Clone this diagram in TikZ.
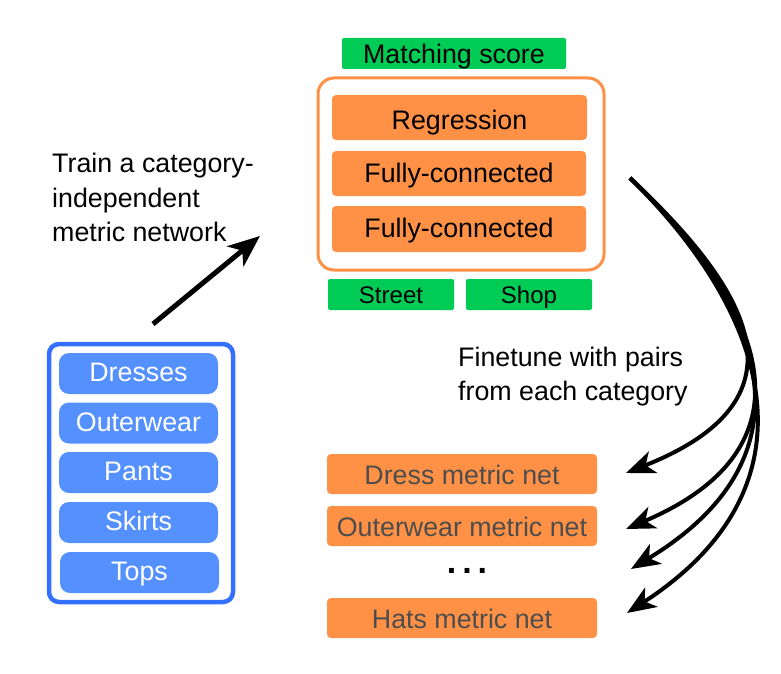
\documentclass[tikz,border=0pt]{standalone}
\usepackage{fontspec}
\setmainfont{Liberation Sans}
\usetikzlibrary{arrows.meta}
\definecolor{og}{RGB}{255,145,70}
\definecolor{gr}{RGB}{0,204,85}
\definecolor{bl}{RGB}{51,112,255}
\definecolor{blf}{RGB}{85,144,255}
\definecolor{txg}{RGB}{77,77,77}
\begin{document}
\begin{tikzpicture}[x=1pt,y=-1pt,
  lbl/.style={font=\fontsize{26.8}{34.5}\selectfont},
  cen/.style={text height=#1, text depth=0pt},
  obox/.style={fill=og, rounded corners=4pt, inner sep=0pt, lbl},
  gbox/.style={fill=gr, rounded corners=2pt, inner sep=0pt, lbl},
  bbox/.style={fill=blf, rounded corners=10pt, inner sep=0pt, lbl, cen=16pt, text=white, minimum width=159pt, minimum height=41pt},
  mbox/.style={obox, cen=20pt, text=txg, minimum width=270pt, minimum height=40pt},
  bigarrow/.style={line width=4pt, -{Stealth[length=29pt,width=23pt,inset=8pt]}},
]
\useasboundingbox (0,0) rectangle (781,674);
% top network
\node[gbox, cen=21pt, minimum width=224pt, minimum height=31pt] (score) at (454,53.5) {Matching score};
\node[draw=og, line width=3pt, rounded corners=16pt, minimum width=286pt, minimum height=192pt, inner sep=0pt] (net) at (461,174) {};
\node[obox, cen=24pt, minimum width=255pt, minimum height=45pt] (reg) at (459.5,117.5) {Regression};
\node[obox, cen=18pt, minimum width=254pt, minimum height=45pt] (fc1) at (459,173.5) {Fully-connected};
\node[obox, cen=16pt, minimum width=254pt, minimum height=46pt] (fc2) at (459,229) {Fully-connected};
\node[gbox, cen=17pt, minimum width=126pt, minimum height=31pt, font=\fontsize{24}{28}\selectfont] (street) at (391,294.5) {Street};
\node[gbox, cen=17pt, minimum width=126pt, minimum height=31pt, font=\fontsize{24}{28}\selectfont] (shop) at (529,294.5) {Shop};
% categories
\node[draw=bl, line width=4.5pt, rounded corners=10pt, minimum width=184pt, minimum height=258pt, inner sep=0pt] (cats) at (141,473) {};
\node[bbox] (dresses) at (138.5,373.5) {Dresses};
\node[bbox] (outer) at (138.5,423) {Outerwear};
\node[bbox] (pants) at (138.5,472.5) {Pants};
\node[bbox] (skirts) at (138.5,522.5) {Skirts};
\node[bbox] (tops) at (139.5,572.5) {Tops};
% texts
\node[lbl, align=left, anchor=north west, inner sep=0pt] (train) at (52,153) {Train a category-\\independent\\metric network};
\node[lbl, font=\fontsize{26.8}{33.5}\selectfont, align=left, anchor=north west, inner sep=0pt] (fine) at (458,347) {Finetune with pairs\\from each category};
% metric nets
\node[mbox] (dress) at (462,474) {Dress metric net};
\node[mbox] (outernet) at (462,526) {Outerwear metric net};
\node[font=\fontsize{34}{34}\selectfont\bfseries, inner sep=0pt] (dots) at (467,571) {.\hspace{6pt}.\hspace{6pt}.};
\node[mbox] (hats) at (462,618) {Hats metric net};
% arrows
\coordinate (t0) at (153,324);
\coordinate (t1) at (260,236);
\draw[line width=5pt, -{Stealth[length=32pt,width=26pt,inset=9pt]}] (t0) -- (t1);
\coordinate (s) at (630,178);
\coordinate (e1) at (626,473);
\coordinate (e2) at (626,529);
\coordinate (e3) at (631,569);
\coordinate (e4) at (627,613);
\draw[bigarrow] (s) .. controls (755,295) and (810,400) .. (e1);
\draw[bigarrow] (s) .. controls (758,300) and (826,444) .. (e2);
\draw[bigarrow] (s) .. controls (762,305) and (821,454) .. (e3);
\draw[bigarrow] (s) .. controls (765,310) and (827,483) .. (e4);
\end{tikzpicture}
\end{document}
